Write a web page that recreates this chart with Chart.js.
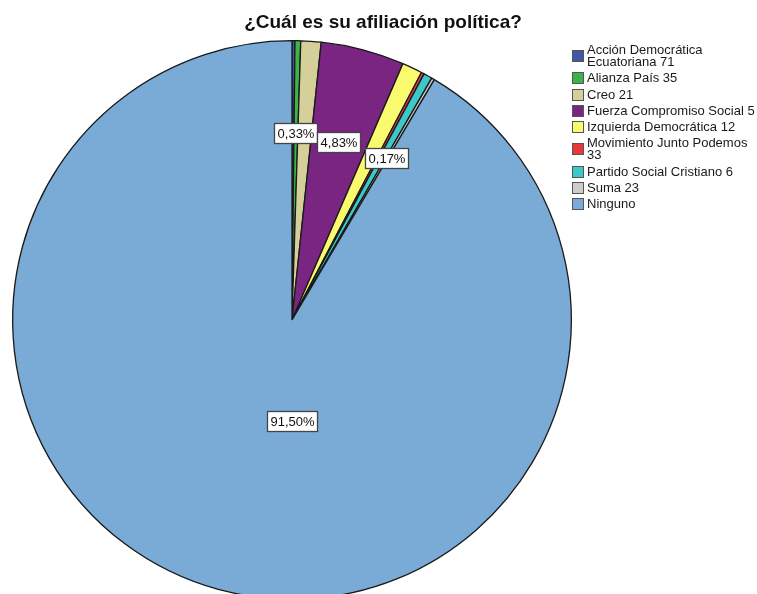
<!DOCTYPE html>
<html>
<head>
<meta charset="utf-8">
<script src="https://cdn.jsdelivr.net/npm/chart.js@4.4.1/dist/chart.umd.min.js"></script>
<style>
  html, body { margin: 0; padding: 0; background: #fff; overflow: hidden; }
  #wrap { position: relative; width: 757px; height: 594px; overflow: hidden; font-family: "Liberation Sans", Arial, sans-serif; }
  #pie { position: absolute; left: 0; top: 0; }
  #title { position: absolute; left: 0; width: 766px; top: 11px; text-align: center; font-weight: bold; font-size: 19px; color: #111; }
  #legend { position: absolute; left: 572px; top: 44px; width: 185px; list-style: none; margin: 0; padding: 0; font-size: 13px; line-height: 12px; color: #1a1a1a; }
  #legend li { display: flex; align-items: center; margin-bottom: 4.3px; }
  #legend .box { flex: none; width: 10px; height: 10px; border: 1px solid #555; margin-right: 3px; }
  #legend .txt { width: 170px; }
</style>
</head>
<body>
<div id="wrap">
  <canvas id="pie" width="757" height="640"></canvas>
  <div id="title">¿Cuál es su afiliación política?</div>
  <ul id="legend"></ul>
</div>
<script>
const categories = [
  'Acción Democrática Ecuatoriana 71',
  'Alianza País 35',
  'Creo 21',
  'Fuerza Compromiso Social 5',
  'Izquierda Democrática 12',
  'Movimiento Junto Podemos 33',
  'Partido Social Cristiano 6',
  'Suma 23',
  'Ninguno'
];
// percent of respondents
const shares = [0.17, 0.33, 1.17, 4.83, 1.17, 0.17, 0.50, 0.17, 91.50];
const colors = ['#3f58a8', '#3cb44a', '#d5cf9a', '#7b2583', '#fafa6e', '#e8383d', '#3cc8c8', '#cccccc', '#7aaad6'];

// which slices get a value box: fraction of radius, optional angle (deg, clockwise from top)
const labelSpots = [
  { index: 1, frac: 0.67 },
  { index: 3, frac: 0.66 },
  { index: 7, frac: 0.67 },
  { index: 8, frac: 0.36, angle: 180 }
];

const fmt = v => v.toFixed(2).replace('.', ',') + '%';

const sliceLabels = {
  id: 'sliceLabels',
  afterDatasetsDraw(chart) {
    const c = chart.ctx;
    const meta = chart.getDatasetMeta(0);
    c.save();
    c.font = '13px "Liberation Sans", Arial, sans-serif';
    c.textAlign = 'center';
    c.textBaseline = 'middle';
    labelSpots.forEach(s => {
      const arc = meta.data[s.index];
      const a = s.angle != null ? (s.angle - 90) * Math.PI / 180 : (arc.startAngle + arc.endAngle) / 2;
      const r = arc.outerRadius * s.frac;
      const x = arc.x + Math.cos(a) * r;
      const y = arc.y + Math.sin(a) * r;
      const text = fmt(shares[s.index]);
      const w = Math.round(c.measureText(text).width + 6);
      const h = 20;
      const bx = Math.round(x - w / 2) + 0.5, by = Math.round(y - h / 2) + 0.5;
      c.fillStyle = '#fff';
      c.fillRect(bx, by, w, h);
      c.strokeStyle = '#444';
      c.lineWidth = 1.3;
      c.strokeRect(bx, by, w, h);
      c.fillStyle = '#111';
      c.fillText(text, bx + w / 2, by + h / 2 + 0.5);
    });
    c.restore();
  }
};

const chart = new Chart(document.getElementById('pie').getContext('2d'), {
  type: 'pie',
  data: {
    labels: categories,
    datasets: [{
      data: shares,
      backgroundColor: colors,
      borderColor: '#1a1a1a',
      borderWidth: 1.3
    }]
  },
  options: {
    responsive: false,
    animation: false,
    layout: { padding: { left: 12, top: 40, right: 185, bottom: 40 } },
    plugins: {
      legend: { display: false },
      tooltip: { enabled: false },
      title: { display: false }
    }
  },
  plugins: [sliceLabels]
});

// legend built from the same arrays
const legendEl = document.getElementById('legend');
categories.forEach((name, i) => {
  const li = document.createElement('li');
  li.innerHTML = `<span class="box" style="background:${colors[i]}"></span><span class="txt">${name}</span>`;
  legendEl.appendChild(li);
});
</script>
</body>
</html>
